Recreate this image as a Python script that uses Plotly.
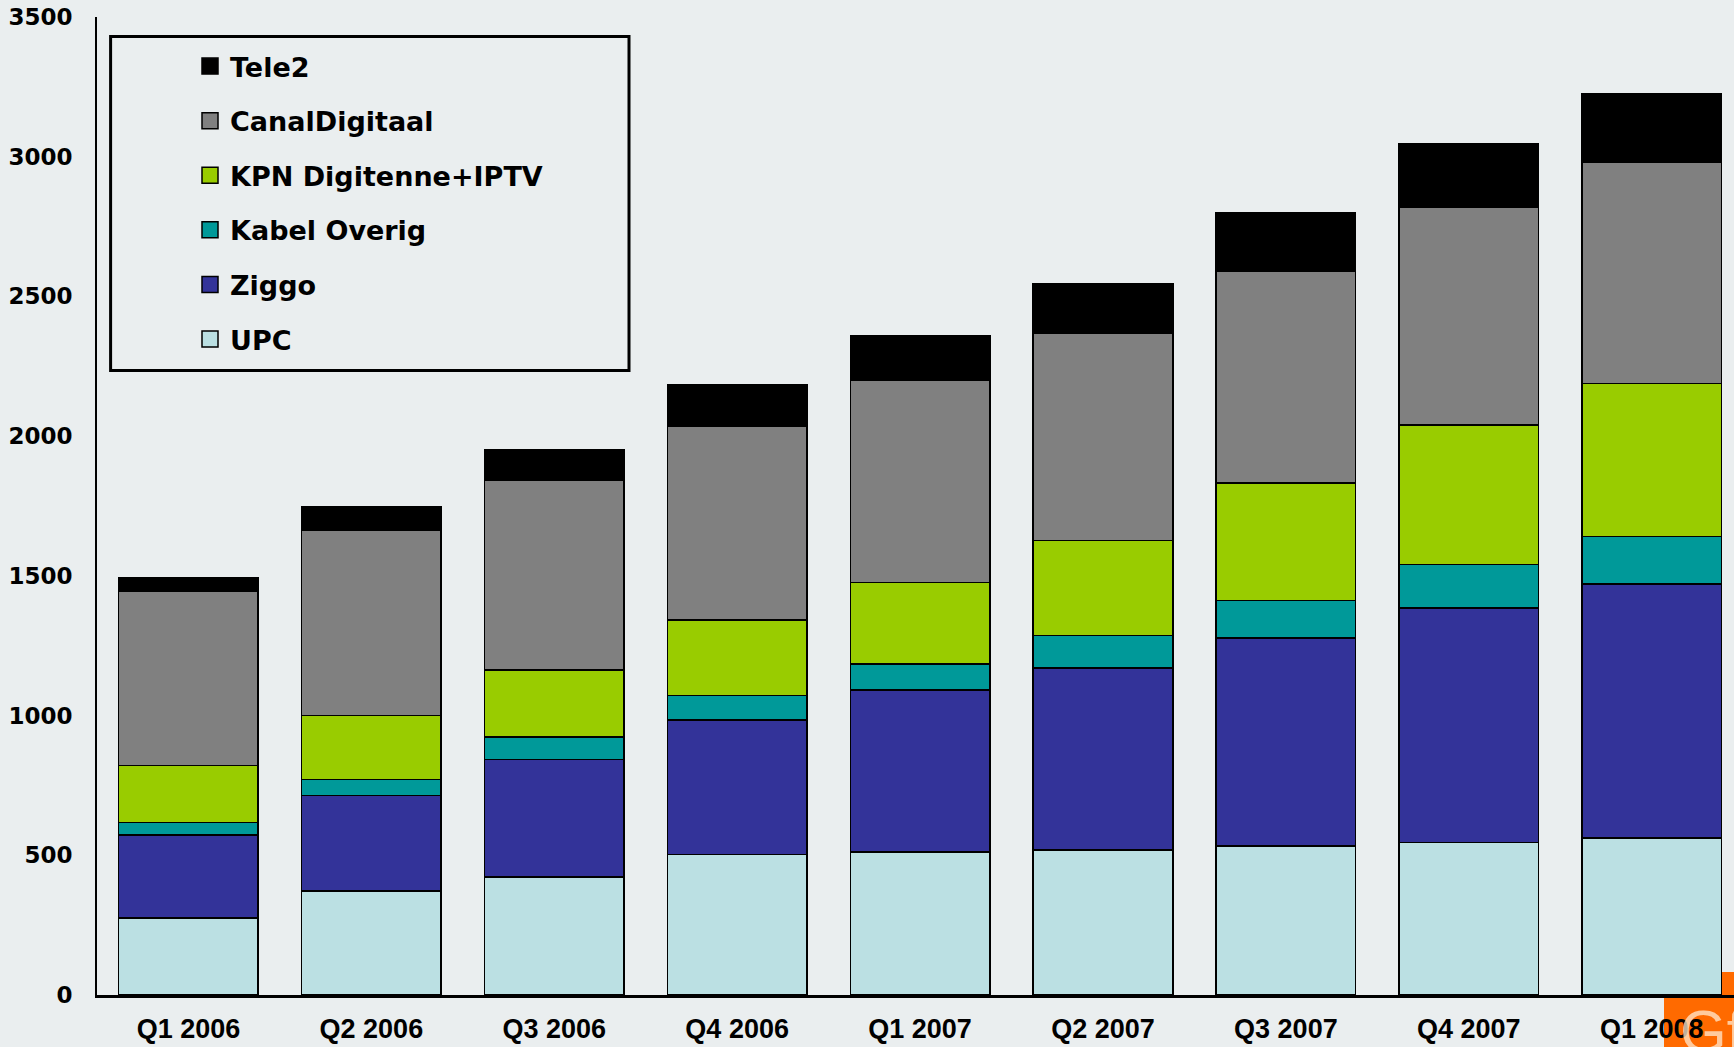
import plotly.graph_objects as go

quarters = ["Q1 2006", "Q2 2006", "Q3 2006", "Q4 2006", "Q1 2007",
            "Q2 2007", "Q3 2007", "Q4 2007", "Q1 2008"]

upc = [275, 373, 422, 503, 511, 519, 534, 546, 562]
ziggo = [298, 341, 421, 482, 581, 651, 744, 839, 909]
kabel_overig = [44, 58, 80, 87, 93, 116, 134, 156, 170]
kpn = [205, 229, 241, 270, 291, 340, 421, 499, 548]
canal_digitaal = [623, 662, 677, 693, 724, 743, 757, 779, 792]
tele2 = [50, 83, 111, 148, 161, 178, 209, 229, 246]

series = [
    ("UPC", upc, "#BBE0E3"),
    ("Ziggo", ziggo, "#333399"),
    ("Kabel Overig", kabel_overig, "#009999"),
    ("KPN Digitenne+IPTV", kpn, "#99CC00"),
    ("CanalDigitaal", canal_digitaal, "#808080"),
    ("Tele2", tele2, "#000000"),
]

BG = "#EAEEEF"
W, H = 1734, 1047
L, R, T, B = 97, 0, 17, 52
PW, PH = W - L - R, H - T - B

def px_x(p):
    return (p - L) / PW

def px_y(p):
    return (H - B - p) / PH

fig = go.Figure()
for name, vals, col in series:
    fig.add_trace(go.Bar(
        x=quarters, y=vals, name=name, legendgroup=name, showlegend=False,
        marker=dict(color=col, line=dict(color="#000000", width=1.5)),
    ))

# legend entries (top to bottom: Tele2 ... UPC)
for name, vals, col in reversed(series):
    fig.add_trace(go.Scatter(
        x=[None], y=[None], mode="markers", name=name, legendgroup=name,
        marker=dict(symbol="square", size=16, color=col,
                    line=dict(color="#000000", width=1.5)),
        hoverinfo="skip",
    ))

fig.update_layout(
    width=W, height=H,
    barmode="stack", bargap=0.237,
    paper_bgcolor=BG, plot_bgcolor=BG,
    margin=dict(l=L, r=R, t=T, b=B),
    showlegend=True,
    legend=dict(
        x=px_x(190), y=px_y(42), xanchor="left", yanchor="top",
        traceorder="grouped", tracegroupgap=16.5,
        bgcolor="rgba(0,0,0,0)", borderwidth=0,
        font=dict(family="DejaVu Sans", size=27, color="#000000", weight="bold"),
    ),
    xaxis=dict(
        range=[-0.5, 8.45], showline=True, linecolor="#000000", linewidth=3,
        showgrid=False, zeroline=False, ticks="", ticklabelstandoff=8,
        automargin=False,
        tickfont=dict(family="Liberation Sans", size=27, color="#000000", weight="bold"),
        fixedrange=True,
    ),
    yaxis=dict(
        range=[0, 3500], dtick=500, tick0=0, showline=True, linecolor="#000000",
        linewidth=2, showgrid=False, zeroline=False, ticks="", ticklabelstandoff=18,
        automargin=False,
        tickfont=dict(family="DejaVu Sans", size=23, color="#000000", weight="bold"),
        fixedrange=True,
    ),
    shapes=[
        dict(type="rect", xref="paper", yref="paper",
             x0=px_x(110.6), x1=px_x(629), y0=px_y(370.5), y1=px_y(36.5),
             line=dict(color="#000000", width=3), fillcolor="rgba(0,0,0,0)", layer="above"),
        dict(type="rect", xref="paper", yref="paper",
             x0=px_x(1722), x1=px_x(1740), y0=px_y(996), y1=px_y(972),
             line=dict(width=0), fillcolor="#FF6A00", layer="below"),
        dict(type="rect", xref="paper", yref="paper",
             x0=px_x(1664), x1=px_x(1740), y0=px_y(1050), y1=px_y(996),
             line=dict(width=0), fillcolor="#FF6A00", layer="below"),
    ],
    annotations=[
        dict(text="Gf", xref="paper", yref="paper", x=px_x(1678), y=px_y(996),
             xanchor="left", yanchor="top", showarrow=False,
             font=dict(family="Liberation Sans", size=60, color="rgba(255,235,210,0.75)")),
    ],
)

fig.write_html("out.html", config={"displayModeBar": False},
               post_script="document.body.style.margin='0';")
